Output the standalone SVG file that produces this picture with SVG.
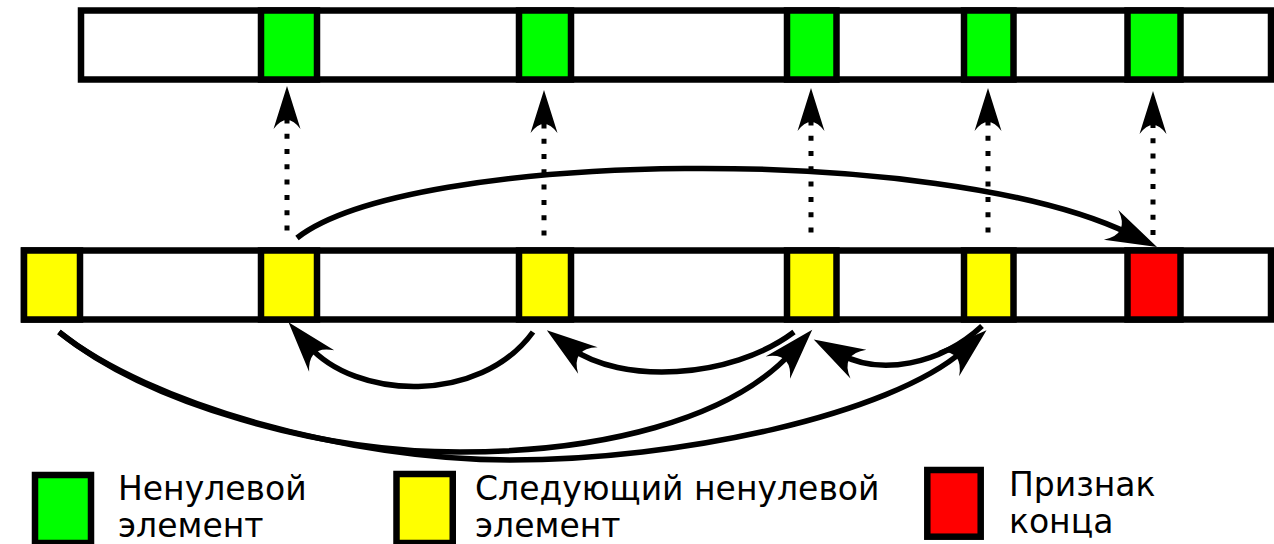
<svg xmlns="http://www.w3.org/2000/svg" width="1274" height="544" viewBox="0 0 1274 544">
<style>
.bar{fill:#fff;stroke:#000;stroke-width:6.5}
.cell{stroke:#000;stroke-width:6.5}
.g{fill:#00ff00}.y{fill:#ffff00}.r{fill:#ff0000}
.dot{fill:none;stroke:#000;stroke-width:5;stroke-dasharray:5 10.3}
.arc{fill:none;stroke:#000;stroke-width:5.5}
.lbl{font-family:"DejaVu Sans",sans-serif;font-size:33px;fill:#000}
</style>
<defs>
<marker id="ah" markerUnits="userSpaceOnUse" viewBox="-52 -17 54 34" markerWidth="54" markerHeight="34" refX="-30" refY="0" orient="auto" overflow="visible">
<path d="M0,0 L-51,-16.5 Q-30,0 -51,16.5 Z" fill="#000"/>
</marker>
<marker id="as" markerUnits="userSpaceOnUse" viewBox="-44 -14 46 28" markerWidth="46" markerHeight="28" refX="-25" refY="0" orient="auto" overflow="visible">
<path d="M0,0 L-43,-13.5 Q-25,0 -43,13.5 Z" fill="#000"/>
</marker>
</defs>

<g id="top-array">
<rect class="bar" x="81" y="10.5" width="1190" height="69"/>
<g id="top-cell-1"><rect class="cell g" x="261" y="10.5" width="56" height="69"/></g>
<g id="top-cell-2"><rect class="cell g" x="519" y="10.5" width="52" height="69"/></g>
<g id="top-cell-3"><rect class="cell g" x="787" y="10.5" width="49.5" height="69"/></g>
<g id="top-cell-4"><rect class="cell g" x="964" y="10.5" width="49.5" height="69"/></g>
<g id="top-cell-5"><rect class="cell g" x="1127.5" y="10.5" width="53" height="69"/></g>
</g>

<g id="bottom-array">
<rect class="bar" x="24" y="250.5" width="1247" height="69"/>
<g id="bottom-cell-0"><rect class="cell y" x="24" y="250.5" width="56" height="69"/></g>
<g id="bottom-cell-1"><rect class="cell y" x="261" y="250.5" width="56" height="69"/></g>
<g id="bottom-cell-2"><rect class="cell y" x="519" y="250.5" width="52" height="69"/></g>
<g id="bottom-cell-3"><rect class="cell y" x="787" y="250.5" width="49.5" height="69"/></g>
<g id="bottom-cell-4"><rect class="cell y" x="964" y="250.5" width="49.5" height="69"/></g>
<g id="bottom-cell-5"><rect class="cell r" x="1127.5" y="250.5" width="53" height="69"/></g>
</g>

<g id="connectors">
<path class="dot" d="M287,230.5 V111" marker-end="url(#as)"/>
<path class="dot" d="M544,235.5 V115" marker-end="url(#as)"/>
<path class="dot" d="M811,232.5 V113" marker-end="url(#as)"/>
<path class="dot" d="M988,232.5 V113" marker-end="url(#as)"/>
<path class="dot" d="M1153,235 V116" marker-end="url(#as)"/>

<path class="arc" d="M297,238 C410,150 940,142 1130,234" marker-end="url(#ah)"/>
<path class="arc" d="M533,332 C480,405 355,400 308,345" marker-end="url(#ah)"/>
<path class="arc" d="M794,332 C730,380 620,384 571,348" marker-end="url(#ah)"/>
<path class="arc" d="M982,326 C940,365 880,376 840,354" marker-end="url(#ah)"/>
<path class="arc" d="M59,332 C150,405 320,452 460,452 C600,452 730,420 792,352" marker-end="url(#ah)"/>
<path class="arc" d="M59,332 C150,405 350,460 510,460 C680,460 890,415 964,350" marker-end="url(#ah)"/>
</g>

<g id="legend-nonzero">
<rect class="cell g" x="35" y="475" width="56" height="68"/>
<text class="lbl" x="118" y="500">Ненулевой</text>
<text class="lbl" x="118" y="537">элемент</text>
</g>
<g id="legend-next">
<rect class="cell y" x="396.5" y="474" width="56.25" height="69"/>
<text class="lbl" x="475" y="500">Следующий ненулевой</text>
<text class="lbl" x="475" y="537">элемент</text>
</g>
<g id="legend-end">
<rect class="cell r" x="927.3" y="470" width="53.4" height="66.7"/>
<text class="lbl" x="1009" y="496">Признак</text>
<text class="lbl" x="1009" y="533">конца</text>
</g>
</svg>
